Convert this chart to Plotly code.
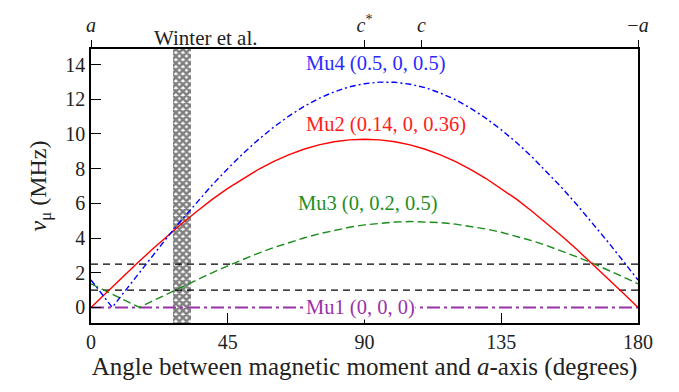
import plotly.graph_objects as go

# ---- data ----
red_angle = [0, 5, 10, 15, 20, 25, 30, 35, 40, 45, 50, 55, 60, 65, 70, 75, 80, 85, 90,
             95, 100, 105, 110, 115, 120, 125, 130, 135, 140, 145, 150, 155, 160, 165, 170, 175, 180]
red_nu = [0, 0.85, 1.68, 2.51, 3.32, 4.10, 4.85, 5.56, 6.24, 6.86, 7.43, 7.95, 8.40, 8.79, 9.12, 9.37, 9.55, 9.66, 9.70,
          9.66, 9.55, 9.37, 9.12, 8.79, 8.40, 7.95, 7.43, 6.86, 6.24, 5.56, 4.85, 4.10, 3.32, 2.51, 1.68, 0.85, 0]

blue_angle = [0, 5, 7, 10, 15, 20, 25, 30, 35, 40, 45, 50, 55, 60, 65, 70, 75, 80, 85, 90,
              95, 100, 105, 110, 115, 120, 125, 130, 135, 140, 145, 150, 155, 160, 165, 170, 175, 180]
blue_nu = [1.58, 0.45, 0, 0.68, 1.81, 2.92, 4.02, 5.08, 6.10, 7.08, 8.00, 8.87, 9.66, 10.38, 11.02, 11.58, 12.05, 12.43,
           12.72, 12.90, 12.99, 12.98, 12.87, 12.67, 12.36, 11.97, 11.48, 10.90, 10.24, 9.51, 8.70, 7.82, 6.89, 5.90,
           4.87, 3.80, 2.70, 1.58]

green_angle = [0, 5, 10, 15, 16, 20, 25, 30, 35, 40, 45, 50, 55, 60, 65, 70, 75, 80, 85, 90,
               95, 100, 105, 110, 115, 120, 125, 130, 135, 140, 145, 150, 155, 160, 165, 170, 175, 180]
green_nu = [1.36, 0.94, 0.52, 0.09, 0, 0.35, 0.77, 1.20, 1.61, 2.01, 2.40, 2.77, 3.12, 3.44, 3.74, 4.00, 4.24, 4.45,
            4.62, 4.76, 4.86, 4.92, 4.95, 4.94, 4.89, 4.80, 4.68, 4.52, 4.33, 4.10, 3.85, 3.56, 3.25, 2.91, 2.55,
            2.17, 1.77, 1.36]

purple_angle = [0, 180]
purple_nu = [0, 0]

threshold_levels = [1.0, 2.5]
winter_range = [27, 33]

x_ticks = [0, 45, 90, 135, 180]
y_ticks = [0, 2, 4, 6, 8, 10, 12, 14]
top_tick_vals = [0, 90, 108.7, 180]
top_tick_text = ["<i>a</i>", "<i>c</i><sup>*</sup>", "<i>c</i>", "\u2212<i>a</i>"]

labels = [
    ("Mu4 (0.5, 0, 0.5)", 70.3, 14.05, "#2a2aff"),
    ("Mu2 (0.14, 0, 0.36)", 70.3, 10.55, "#ff2020"),
    ("Mu3 (0, 0.2, 0.5)", 67.7, 6.0, "#1f8f1f"),
    ("Mu1 (0, 0, 0)", 70.3, 0.0, "#9932a8"),
]

FONT = "Liberation Serif"
fig = go.Figure()

# Winter et al. hatched band
fig.add_trace(go.Bar(
    x=[(winter_range[0] + winter_range[1]) / 2], y=[20], base=[-5],
    width=[winter_range[1] - winter_range[0]],
    marker=dict(color="white", line=dict(color="black", width=0),
                pattern=dict(shape="x", fgcolor="black", bgcolor="white", size=5, solidity=0.75)),
    showlegend=False, hoverinfo="skip"))

for lvl in threshold_levels:
    fig.add_trace(go.Scatter(x=[0, 180], y=[lvl, lvl], mode="lines",
                             line=dict(color="black", width=1.3, dash="7px,5px"), showlegend=False))

fig.add_trace(go.Scatter(x=purple_angle, y=purple_nu, mode="lines",
                         line=dict(color="#9932a8", width=2, dash="13px,4px,3px,4px"), showlegend=False))
fig.add_trace(go.Scatter(x=green_angle, y=green_nu, mode="lines",
                         line=dict(color="#1a8c1a", width=1.4, dash="8px,4px"), showlegend=False))
fig.add_trace(go.Scatter(x=red_angle, y=red_nu, mode="lines",
                         line=dict(color="#ff0000", width=1.4), showlegend=False))
fig.add_trace(go.Scatter(x=blue_angle, y=blue_nu, mode="lines",
                         line=dict(color="#0000ff", width=1.4, dash="6px,3px,2px,3px"), showlegend=False))

# dummy trace on top axis
fig.add_trace(go.Scatter(x=[0, 180], y=[None, None], xaxis="x2", showlegend=False, hoverinfo="skip"))

for text, x, y, col in labels:
    fig.add_annotation(x=x, y=y, text=text, showarrow=False, xanchor="left", yanchor="middle",
                       font=dict(family=FONT, size=20.5, color=col),
                       bgcolor="white" if y == 0 else "rgba(0,0,0,0)", borderpad=0)

fig.add_annotation(x=38, y=1.0, xref="x", yref="paper", text="Winter et al.", showarrow=False,
                   yanchor="bottom", yshift=-3, font=dict(family=FONT, size=21, color="#222"))

fig.update_layout(
    width=679, height=392, margin=dict(l=91, r=41, t=32, b=69),
    plot_bgcolor="white", paper_bgcolor="white", bargap=0,
    font=dict(family=FONT, size=20, color="#222"),
    xaxis=dict(range=[0, 180], tickvals=x_ticks, ticks="inside", ticklen=10, tickwidth=1.3,
               tickcolor="black", showline=True, linecolor="black", linewidth=1.5, mirror=True,
               showgrid=False, zeroline=False,
               title=dict(text="Angle between magnetic moment and <i>a</i>-axis (degrees)",
                          font=dict(family=FONT, size=25), standoff=0),
               tickfont=dict(family=FONT, size=20)),
    xaxis2=dict(range=[0, 180], overlaying="x", side="top", tickvals=top_tick_vals,
                ticktext=top_tick_text, ticks="outside", ticklen=8, tickwidth=1.3, tickcolor="black",
                showgrid=False, zeroline=False, showline=False, tickfont=dict(family=FONT, size=20)),
    yaxis=dict(range=[-0.9, 14.9], tickvals=y_ticks, ticks="inside", ticklen=10, tickwidth=1.3,
               tickcolor="black", showline=True, linecolor="black", linewidth=1.5, mirror=True,
               showgrid=False, zeroline=False, tickfont=dict(family=FONT, size=20),
               title=dict(text="<i>\u03bd</i><sub>\u03bc</sub> (MHz)",
                          font=dict(family=FONT, size=24), standoff=12)),
)

fig.write_html("out.html")
